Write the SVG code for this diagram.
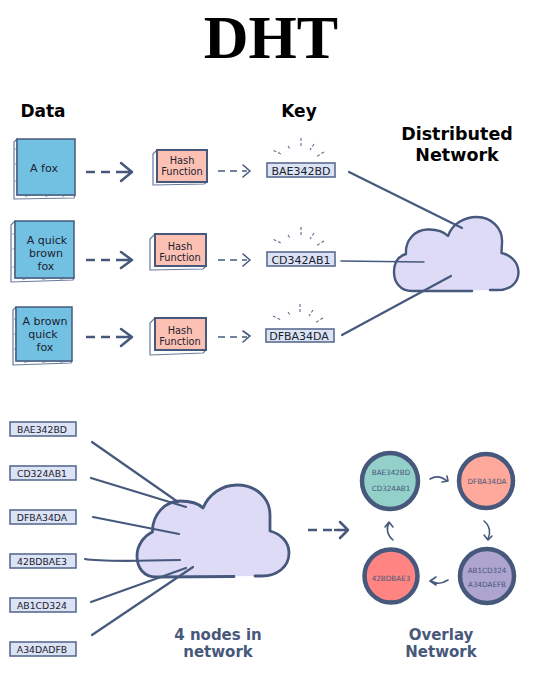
<svg xmlns="http://www.w3.org/2000/svg" width="537" height="692" viewBox="0 0 537 692">
<style>
text{font-family:"DejaVu Sans",Verdana,sans-serif;text-anchor:middle;fill:#1a2230}
.title{font-family:"Liberation Serif","Times New Roman",serif;font-weight:700;font-size:62px;fill:#000}
.h{font-weight:700;font-size:17px;fill:#000}
.hw{font-size:17.500px}
.b{font-weight:700;font-size:15px;fill:#47587a}
.d{font-size:11px}
.f{font-size:9.800px}
.k{font-size:11px}
.kk{font-size:9.300px}
.o{font-size:7.200px;fill:#47587a}
.data{fill:#73c1e2;stroke:#46597d;stroke-width:1.500}
.hash{fill:#fdc1b4;stroke:#46597d;stroke-width:2}
.side{fill:#fff;stroke:#6a7b9c;stroke-width:1.200;stroke-linejoin:round}
.hatch{fill:none;stroke:#8c9ab4;stroke-width:.8}
.key{fill:#dce3f4;stroke:#5a6c90;stroke-width:1.600}
.cf{fill:#dedbf6;stroke:none}
.cs{fill:none;stroke:#46597d;stroke-width:2.400;stroke-linejoin:round;stroke-linecap:round}
.cb{stroke-width:2.800}
.ln{fill:none;stroke:#46597d;stroke-width:2.200;stroke-linecap:round}
.thin{stroke-width:1.500}
.a1{fill:none;stroke:#46597d;stroke-width:2.500;stroke-dasharray:9 6}
.a2{fill:none;stroke:#46597d;stroke-width:1.600;stroke-dasharray:7 5}
.h1{fill:none;stroke:#46597d;stroke-width:2.500;stroke-linecap:round;stroke-linejoin:round}
.h2{fill:none;stroke:#46597d;stroke-width:1.600;stroke-linecap:round;stroke-linejoin:round}
.sp{fill:none;stroke:#5a6c90;stroke-width:1.100;stroke-dasharray:3 2}
.c{stroke:#46597d;stroke-width:4.500}
</style>
<text class="title" x="271" y="58">DHT</text>
<text class="h" x="43" y="117">Data</text>
<text class="h" x="299" y="117">Key</text>
<text class="h hw" x="457" y="140">Distributed</text>
<text class="h hw" x="457" y="161">Network</text>

<g id="data1"><path class="side" d="M17 139L14 142V199L74 198L75 195H17Z"/><path class="hatch" d="M15 150L17 147M15 165L17 162M15 182L17 179M25 197L30 195M45 197L50 195M62 197L66 195"/><rect class="data" x="17" y="139" width="58" height="56"/><text class="d" x="44" y="172">A fox</text></g>
<g id="data2"><path class="side" d="M15 221L11 225V282L73 280L74 278H15Z"/><path class="hatch" d="M12 235L15 232M12 250L15 247M12 268L15 265M22 280L28 278M42 280L48 278M60 280L65 278"/><rect class="data" x="15" y="221" width="59" height="57"/><text class="d" x="47" y="244">A quick</text><text class="d" x="46" y="257">brown</text><text class="d" x="46" y="270">fox</text></g>
<g id="data3"><path class="side" d="M16 307L13 310V365L71 363L72 361H16Z"/><path class="hatch" d="M14 320L16 317M14 335L16 332M14 350L16 347M24 363L30 361M42 363L48 361M60 363L65 361"/><rect class="data" x="16" y="307" width="56" height="54"/><text class="d" x="45" y="325">A brown</text><text class="d" x="43" y="338">quick</text><text class="d" x="45" y="351">fox</text></g>

<g id="hash1"><path class="side" d="M157 150L153 154V185L204 184L207 182H157Z"/><rect class="hash" x="157" y="150" width="50" height="32"/><text class="f" x="182" y="164">Hash</text><text class="f" x="182" y="175">Function</text></g>
<g id="hash2"><path class="side" d="M155 234L150 239V270L203 269L206 266H155Z"/><rect class="hash" x="155" y="234" width="51" height="32"/><text class="f" x="180" y="250">Hash</text><text class="f" x="180" y="261">Function</text></g>
<g id="hash3"><path class="side" d="M155 318L150 323V355L203 353L206 350H155Z"/><rect class="hash" x="155" y="318" width="51" height="32"/><text class="f" x="180" y="334">Hash</text><text class="f" x="180" y="345">Function</text></g>

<g id="key1"><rect class="key" x="267" y="163" width="68" height="14"/><text class="k" x="301" y="174.500">BAE342BD</text></g>
<g id="key2"><rect class="key" x="267" y="252" width="68" height="14"/><text class="k" x="301" y="263.500">CD342AB1</text></g>
<g id="key3"><rect class="key" x="266" y="329" width="68" height="13"/><text class="k" x="299" y="340">DFBA34DA</text></g>
<g id="sparks"><path class="sp" d="M273.500 150.500L281 154M288 146L290 149M301 138V146M314 144L310 150M324 152L316 157"/><path class="sp" d="M273.500 239.500L281 243M288 235L290 238M301 227V235M314 233L310 239M324 241L316 246"/><path class="sp" d="M273 316L281 320M288 312L290 315M300 304V312M313 310L309 316M323 318L315 323"/></g>

<g id="cloud-top"><path class="cf" d="M412 291C400 291 394 282 394 272C394 262 399 256 406 254C405 240 415 230 427 229.500C436 229 443 231 448 236C452 224 464 217 477 217C491 217 503 228 502 243L501.500 253C511 255 518 262 518.500 272C518.500 283 510 290 498 290Z"/><path class="cs" d="M472 291H412C400 291 394 282 394 272C394 262 399 256 406 254C405 240 415 230 427 229.500C436 229 443 231 448 236C452 224 464 217 477 217C491 217 503 228 502 243L501.500 253C511 255 518 262 518.500 272C518.500 283 510 290 498 290H490"/></g>

<g id="cloud-bottom"><path class="cf" d="M156 577C144 577 137 568 137 556C137 545 144 536 152.500 532C152 515 165 501 180 501C190 501 198 503 203 508C209 494 222 485 237 485C256 485 270 498 270 515V531C281 534 289 542 289 553C289 567 277 576 262 576Z"/><path class="cs cb" d="M234 576.500L156 577C144 577 137 568 137 556C137 545 144 536 152.500 532C152 515 165 501 180 501C190 501 198 503 203 508C209 494 222 485 237 485C256 485 270 498 270 515V531C281 534 289 542 289 553C289 567 277 576 262 576H255"/></g>

<g id="connectors">
<path class="a1" d="M86 172H118"/><path class="h1" d="M121 163L132 172L121 181M118 172H132"/>
<path class="a2" d="M218 171H247"/><path class="h2" d="M243 165L250 171L243 177"/>
<path class="a1" d="M86 260H118"/><path class="h1" d="M121 252L132 260L121 268M118 260H132"/>
<path class="a2" d="M218 260H247"/><path class="h2" d="M243 254L250 260L243 266"/>
<path class="a1" d="M86 337H118"/><path class="h1" d="M121 329L132 337L121 346M118 337H132"/>
<path class="a2" d="M218 337H247"/><path class="h2" d="M243 331L250 336L243 342"/>
<path class="ln" d="M349 172L462 228"/>
<path class="ln thin" d="M341 261L424 262"/>
<path class="ln" d="M342 335L451 276"/>
<path class="ln" d="M92 442L178 502"/>
<path class="ln" d="M91 478L186 507"/>
<path class="ln" d="M93 517L179 534"/>
<path class="ln" d="M85 559C100 562 140 561 180 560"/>
<path class="ln" d="M91 602L186 568"/>
<path class="ln" d="M92 635L193 567"/>
<path class="a1" d="M308 530H339" stroke-width="2"/><path class="h1" d="M340 522L348 530L340 538M335 530H348"/>
<path class="h2" stroke-width="2" d="M430 479C435 476 441 476 447 481M442 482L448 481L447 476"/>
<path class="h2" d="M484 521C490 526 491 533 488 539M484 535L488 540L492 536"/>
<path class="h2" d="M448 580C442 584 436 584 431 581M436 577L430 581L436 585"/>
<path class="h2" d="M393 540C387 535 386 528 389 523M385 527L389 522L393 527"/>
</g>

<g id="key-list">
<g id="l1"><rect class="key" x="10" y="422" width="66" height="14"/><text class="kk" x="42" y="433">BAE342BD</text></g>
<g id="l2"><rect class="key" x="10" y="466" width="66" height="14"/><text class="kk" x="42" y="477">CD324AB1</text></g>
<g id="l3"><rect class="key" x="10" y="510" width="66" height="14"/><text class="kk" x="42" y="521">DFBA34DA</text></g>
<g id="l4"><rect class="key" x="10" y="554" width="66" height="14"/><text class="kk" x="42" y="565">42BDBAE3</text></g>
<g id="l5"><rect class="key" x="10" y="598" width="66" height="14"/><text class="kk" x="42" y="609">AB1CD324</text></g>
<g id="l6"><rect class="key" x="10" y="642" width="66" height="14"/><text class="kk" x="42" y="653">A34DADFB</text></g>
</g>

<g id="n1"><circle class="c" cx="390" cy="481" r="28" fill="#94d0ca"/><text class="o" x="391" y="475">BAE342BD</text><text class="o" x="391" y="491">CD324AB1</text></g>
<g id="n2"><circle class="c" cx="486" cy="481" r="27" fill="#ffa89c"/><text class="o" x="487" y="484">DFBA34DA</text></g>
<g id="n3"><circle class="c" cx="487" cy="576" r="27" fill="#aea4d0"/><text class="o" x="487" y="573">AB1CD324</text><text class="o" x="487" y="587">A34DAEFB</text></g>
<g id="n4"><circle class="c" cx="391" cy="576" r="26.500" fill="#ff8482"/><text class="o" x="391" y="581">42BDBAE3</text></g>

<text class="b" x="218" y="640">4 nodes in</text>
<text class="b" x="218" y="657">network</text>
<text class="b" x="441" y="640">Overlay</text>
<text class="b" x="441" y="657">Network</text>
</svg>
